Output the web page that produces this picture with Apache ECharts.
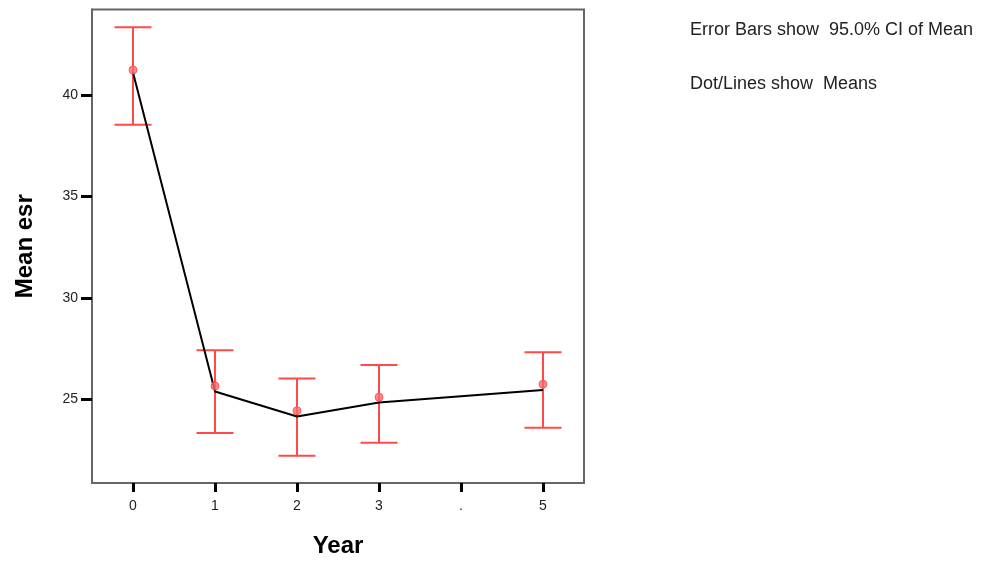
<!DOCTYPE html>
<html>
<head>
<meta charset="utf-8">
<script src="https://cdn.jsdelivr.net/npm/echarts@6/dist/echarts.min.js"></script>
<style>
html,body{margin:0;padding:0;background:#fff;}
#chart{width:984px;height:563px;}
</style>
</head>
<body>
<div id="chart"></div>
<script>
// Data
const categories = ["0", "1", "2", "3", ".", "5"];
const meanValues = [41.23, 25.65, 24.43, 25.10, null, 25.74];   // red dots
const lineValues = [41.10, 25.38, 24.15, 24.84, null, 25.46];   // black connecting line
const upperCI = [43.33, 27.41, 26.02, 26.69, null, 27.31];
const lowerCI = [38.53, 23.34, 22.21, 22.85, null, 23.59];
const yTicks = [25, 30, 35, 40];
const noteLines = ["Error Bars show  95.0% CI of Mean", "Dot/Lines show  Means"];

const errorData = categories.map((c, i) => [i, lowerCI[i], upperCI[i]]).filter(d => d[1] != null);

const chart = echarts.init(document.getElementById('chart'), null, {renderer: 'canvas'});
const FONT = 'Liberation Sans, Arial, sans-serif';

chart.setOption({
  animation: false,
  backgroundColor: '#fff',
  grid: {
    left: 92, right: 400, top: 9.5, bottom: 79,
    show: true, borderColor: '#666', borderWidth: 2, backgroundColor: 'transparent'
  },
  xAxis: {
    type: 'category',
    data: categories,
    boundaryGap: true,
    name: 'Year',
    nameLocation: 'middle',
    nameGap: 51,
    nameTextStyle: {fontFamily: FONT, fontSize: 24, fontWeight: 'bold', color: '#000'},
    axisLine: {show: true, lineStyle: {color: '#666', width: 2}},
    axisTick: {show: true, alignWithLabel: true, length: 9, lineStyle: {color: '#000', width: 3}},
    axisLabel: {fontFamily: FONT, fontSize: 14, color: '#222', margin: 16},
    splitLine: {show: false}
  },
  yAxis: {
    type: 'value',
    min: 20.87,
    max: 44.21,
    name: 'Mean esr',
    nameLocation: 'middle',
    nameRotate: 90,
    nameGap: 55,
    nameTextStyle: {fontFamily: FONT, fontSize: 24, fontWeight: 'bold', color: '#000'},
    axisLine: {show: true, lineStyle: {color: '#666', width: 2}},
    axisTick: {show: true, length: 11, customValues: yTicks, lineStyle: {color: '#000', width: 3}},
    axisLabel: {fontFamily: FONT, fontSize: 14, color: '#222', margin: 14, customValues: yTicks},
    splitLine: {show: false}
  },
  graphic: [
    {type: 'text', left: 690, top: 21, style: {text: noteLines[0], font: '18px ' + FONT, fill: '#222'}},
    {type: 'text', left: 690, top: 75, style: {text: noteLines[1], font: '18px ' + FONT, fill: '#222'}}
  ],
  series: [
    {
      type: 'custom',
      data: errorData,
      z: 2,
      renderItem: function (params, api) {
        const x = api.value(0);
        const lo = api.coord([x, api.value(1)]);
        const hi = api.coord([x, api.value(2)]);
        const hw = 18.5;
        const style = {stroke: '#ff4a4a', lineWidth: 2, fill: null};
        return {
          type: 'group',
          children: [
            {type: 'line', shape: {x1: hi[0], y1: hi[1], x2: lo[0], y2: lo[1]}, style: style},
            {type: 'line', shape: {x1: hi[0] - hw, y1: hi[1], x2: hi[0] + hw, y2: hi[1]}, style: style},
            {type: 'line', shape: {x1: lo[0] - hw, y1: lo[1], x2: lo[0] + hw, y2: lo[1]}, style: style}
          ]
        };
      }
    },
    {
      type: 'line',
      data: lineValues,
      connectNulls: true,
      symbol: 'none',
      z: 3,
      lineStyle: {color: '#000', width: 2}
    },
    {
      type: 'scatter',
      data: meanValues,
      symbol: 'circle',
      symbolSize: 8,
      z: 4,
      itemStyle: {color: '#ff6a6a', borderColor: '#ff4a4a', borderWidth: 1}
    }
  ]
});
</script>
</body>
</html>
